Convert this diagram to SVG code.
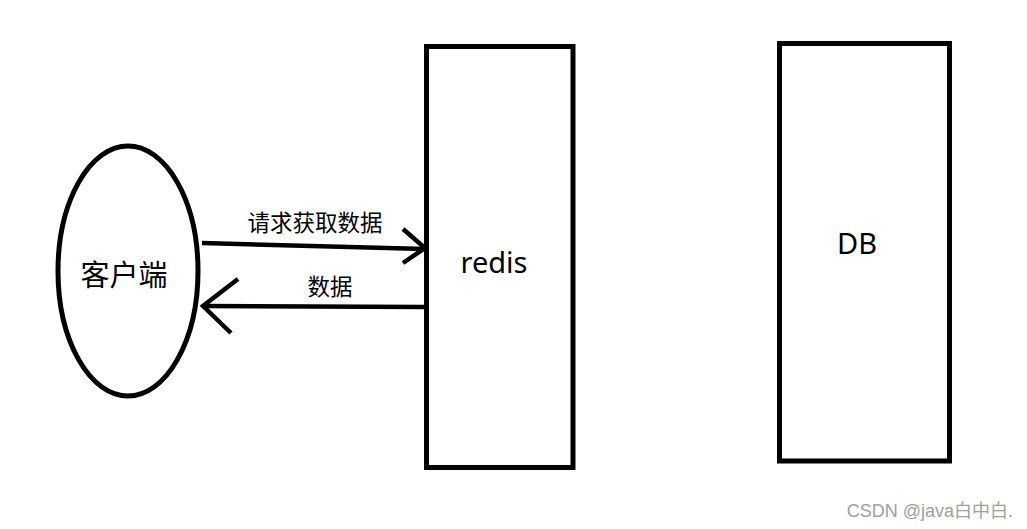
<svg xmlns="http://www.w3.org/2000/svg" width="1027" height="529" viewBox="0 0 1027 529">
<style>
.shape{fill:#fff;stroke:#000;stroke-width:5}
.conn{fill:none;stroke:#000;stroke-width:4.5;stroke-linecap:butt}
.t{font-family:"Noto Sans","Noto Sans CJK SC",sans-serif;fill:#000;text-anchor:middle;dominant-baseline:central}
.wm{font-family:"Liberation Sans","Noto Sans CJK SC",sans-serif;fill:#a0a0a0;font-size:18px;text-anchor:end}
</style>
<rect width="1027" height="529" fill="#fff"/>
<g id="client">
<ellipse class="shape" cx="128" cy="271" rx="70" ry="125"/>
<text class="t" x="124" y="274" font-size="29">客户端</text>
</g>
<g id="redis">
<rect class="shape" x="426.5" y="46.5" width="146.5" height="421"/>
<text class="t" x="494" y="261" font-size="29">redis</text>
</g>
<g id="db">
<rect class="shape" x="779.5" y="43.5" width="170" height="417.5"/>
<text class="t" x="857" y="242" font-size="29">DB</text>
</g>
<g id="connectors">
<path class="conn" d="M202 243 L425 249"/>
<path class="conn" d="M403 229 L425 248 L403 263"/>
<path class="conn" d="M425 307 L203 306"/>
<path class="conn" d="M238 279 L203 306 L231 333"/>
<text class="t" x="315" y="222" font-size="22.5">请求获取数据</text>
<text class="t" x="330" y="286" font-size="22.5">数据</text>
</g>
<text class="wm" x="1013" y="517">CSDN @java白中白.</text>
</svg>
